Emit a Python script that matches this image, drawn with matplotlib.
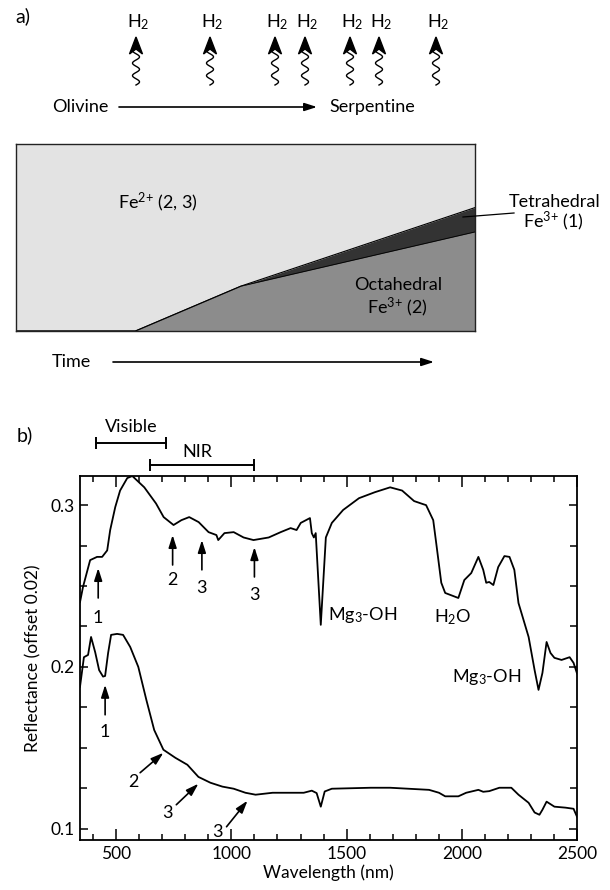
import numpy as np
import matplotlib
matplotlib.use("Agg")
from matplotlib import pyplot as plt
from matplotlib import transforms
from matplotlib.patches import Polygon
from matplotlib.ticker import MultipleLocator

plt.rcParams['font.family'] = ['Lato', 'DejaVu Sans']
plt.rcParams['mathtext.fontset'] = 'custom'
plt.rcParams['mathtext.rm'] = 'Lato'
plt.rcParams['mathtext.it'] = 'Lato:italic'
plt.rcParams['mathtext.bf'] = 'Lato:bold'

# ---- panel a: iron speciation vs time (box fractions)
time = [0.0, 0.26, 0.49, 1.0]
octa_top = [0.0, 0.0, 0.24, 0.53]
tetra_top = [0.0, 0.0, 0.24, 0.66]
h2_x = [136, 210, 275, 305, 350, 379, 436]   # pixel positions of H2 release arrows

# ---- panel b: reflectance spectra
wl_upper = [343, 356, 387, 417, 439, 461, 474, 496, 517, 548, 570, 622, 673, 706, 749,
            783, 817, 858, 901, 935, 943, 970, 1010, 1053, 1096, 1162, 1214, 1257, 1283,
            1301, 1341, 1349, 1358, 1366, 1388, 1410, 1436, 1485, 1554, 1623, 1689, 1741,
            1793, 1832, 1845, 1876, 1889, 1911, 1928, 1985, 2011, 2041, 2072, 2093, 2106,
            2119, 2137, 2158, 2185, 2207, 2228, 2246, 2290, 2316, 2333, 2350, 2368, 2385,
            2402, 2433, 2468, 2485, 2500]
refl_upper = [0.240, 0.2494, 0.266, 0.268, 0.268, 0.272, 0.2846, 0.2988, 0.309, 0.3167,
              0.318, 0.311, 0.301, 0.2926, 0.2877, 0.2907, 0.2926, 0.2895, 0.2833, 0.2815,
              0.2784, 0.2827, 0.2833, 0.280, 0.2784, 0.280, 0.2833, 0.2858, 0.2846, 0.289,
              0.292, 0.2827, 0.280, 0.2827, 0.226, 0.280, 0.289, 0.297, 0.3043, 0.308,
              0.311, 0.309, 0.3025, 0.3006, 0.300, 0.2907, 0.2765, 0.252, 0.2457, 0.2426,
              0.2537, 0.258, 0.268, 0.260, 0.252, 0.2525, 0.2506, 0.2617, 0.2685, 0.268,
              0.260, 0.2395, 0.2185, 0.198, 0.1858, 0.1963, 0.2154, 0.2086, 0.2056, 0.2043,
              0.206, 0.2025, 0.196]
wl_lower = [343, 360, 378, 391, 409, 426, 443, 452, 465, 478, 504, 530, 561, 596, 631,
            665, 705, 757, 809, 857, 909, 961, 1010, 1061, 1105, 1179, 1314, 1349, 1370,
            1388, 1405, 1436, 1605, 1689, 1858, 1901, 1928, 1985, 2019, 2072, 2093, 2119,
            2163, 2215, 2246, 2290, 2316, 2337, 2350, 2368, 2402, 2450, 2485, 2500]
refl_lower = [0.1877, 0.206, 0.2074, 0.2185, 0.209, 0.198, 0.194, 0.1944, 0.2086, 0.2198,
              0.2204, 0.2198, 0.2123, 0.200, 0.1796, 0.161, 0.1488, 0.1438, 0.1395, 0.132,
              0.1284, 0.126, 0.1247, 0.1222, 0.121, 0.1222, 0.1222, 0.1235, 0.122, 0.1136,
              0.123, 0.1247, 0.1253, 0.1253, 0.124, 0.1222, 0.120, 0.120, 0.1222, 0.124,
              0.1228, 0.1232, 0.1253, 0.1253, 0.121, 0.116, 0.110, 0.1086, 0.1117, 0.1167,
              0.1136, 0.113, 0.1123, 0.1074]

vis_range = (413, 718)
nir_range = (648, 1100)

# band arrows: (label, tail x, tail y, head x, head y, label x, label y)
arrows = [
    ('1', 422, 0.2426, 422, 0.2611, 422, 0.230),
    ('2', 745, 0.263, 745, 0.2815, 745, 0.2537),
    ('3', 872, 0.260, 872, 0.2784, 872, 0.2488),
    ('3', 1100, 0.2556, 1100, 0.274, 1100, 0.2444),
    ('1', 452, 0.1704, 452, 0.1889, 452, 0.160),
    ('2', 604, 0.1346, 705, 0.1469, 574, 0.129),
    ('3', 761, 0.1148, 857, 0.1278, 722, 0.1099),
    ('3', 979, 0.1012, 1070, 0.1173, 940, 0.0981),
]
features = [('Mg$_3$-OH', 1571, 0.232), ('H$_2$O', 1959, 0.2309), ('Mg$_3$-OH', 2107, 0.1938)]

fig = plt.figure(figsize=(6.1, 8.9), dpi=100)

# overlay in pixel coordinates for the schematic parts
ov = fig.add_axes([0, 0, 1, 1])
ov.set_xlim(0, 610)
ov.set_ylim(890, 0)
ov.axis('off')
ov.set_zorder(10)

arr = dict(arrowstyle='-|>,head_length=0.75,head_width=0.24', color='k', lw=1.2,
           shrinkA=0, shrinkB=0)

ov.text(23, 16, 'a)', fontsize=14, ha='center', va='center')
for x in h2_x:
    ov.text(x + 2, 22, 'H$_2$', fontsize=13, ha='center', va='center')
    yy = np.linspace(49, 85, 80)
    ov.plot(x + 3.5 * np.sin(2 * np.pi * (85 - yy) / 12.5), yy, color='k', lw=1.0)
    ov.add_patch(Polygon([[x, 37], [x - 6.5, 54], [x, 49], [x + 6.5, 54]], closed=True,
                         color='k'))

ov.text(52, 107, 'Olivine', fontsize=13, ha='left', va='center')
ov.annotate('', xy=(317, 107), xytext=(119, 107), arrowprops=arr)
ov.text(329, 107, 'Serpentine', fontsize=13, ha='left', va='center')

ov.text(52, 362, 'Time', fontsize=13, ha='left', va='center')
ov.annotate('', xy=(434, 362), xytext=(113, 362), arrowprops=arr)

ov.text(158, 202, 'Fe$^{2{+}}$ (2, 3)', fontsize=13, ha='center', va='center')
ov.text(398, 285, 'Octahedral', fontsize=13, ha='center', va='center')
ov.text(397, 307, 'Fe$^{3{+}}$ (2)', fontsize=13, ha='center', va='center')
ov.text(555, 202, 'Tetrahedral', fontsize=13, ha='center', va='center')
ov.text(553, 221, 'Fe$^{3{+}}$ (1)', fontsize=13, ha='center', va='center')
ov.plot([463, 514], [217, 213], color='k', lw=0.9)
ov.text(25, 435, 'b)', fontsize=14, ha='center', va='center')

# panel a box
axa = fig.add_axes([16 / 610, (890 - 331) / 890, 459 / 610, 187 / 890])
axa.set_facecolor('#e3e3e3')
axa.fill_between(time, 0, tetra_top, color='#333333', lw=0)
axa.fill_between(time, 0, octa_top, color='#8c8c8c', lw=0)
axa.plot(time, tetra_top, color='k', lw=0.8)
axa.plot(time, octa_top, color='k', lw=0.6)
axa.set_xlim(0, 1)
axa.set_ylim(0, 1)
axa.set_xticks([])
axa.set_yticks([])
for s in axa.spines.values():
    s.set_linewidth(1.0)
    s.set_color('#222222')

# panel b spectra
axb = fig.add_axes([80 / 610, 50 / 890, 497 / 610, 364 / 890])
axb.plot(wl_upper, refl_upper, color='k', lw=1.3)
axb.plot(wl_lower, refl_lower, color='k', lw=1.3)
axb.set_xlim(343, 2500)
axb.set_ylim(0.093, 0.318)
axb.xaxis.set_major_locator(MultipleLocator(500))
axb.xaxis.set_minor_locator(MultipleLocator(100))
axb.yaxis.set_major_locator(MultipleLocator(0.1))
axb.yaxis.set_minor_locator(MultipleLocator(0.025))
axb.set_yticks([0.1, 0.2, 0.3], ['0.1', '0.2', '0.3'])
axb.tick_params(which='both', direction='in', top=True, right=True, labelsize=12.5,
                width=1.1)
axb.tick_params(axis='x', which='major', length=8, pad=4)
axb.tick_params(axis='x', which='minor', length=4.3)
axb.tick_params(axis='y', which='major', length=6, pad=4)
axb.tick_params(axis='y', which='minor', length=5)
for s in axb.spines.values():
    s.set_linewidth(1.3)
axb.set_xlabel('Wavelength (nm)', fontsize=12.5, labelpad=2)
axb.set_ylabel('Reflectance (offset 0.02)', fontsize=12.5, labelpad=6)

bt = transforms.blended_transform_factory(axb.transData, axb.transAxes)
axb.plot(vis_range, [1.0907, 1.0907], color='k', lw=1.4, marker='|', ms=8, mew=1.4,
         transform=bt, clip_on=False)
axb.plot(nir_range, [1.0302, 1.0302], color='k', lw=1.4, marker='|', ms=8, mew=1.4,
         transform=bt, clip_on=False)
axb.text(np.mean(vis_range), 1.1346, 'Visible', fontsize=13, ha='center', va='center',
         transform=bt)
axb.text(np.mean(nir_range) - 20, 1.0659, 'NIR', fontsize=13, ha='center', va='center',
         transform=bt)

for lab, tx, ty, hx, hy, lx, ly in arrows:
    axb.annotate('', xy=(hx, hy), xytext=(tx, ty), arrowprops=arr, annotation_clip=False)
    axb.text(lx, ly, lab, fontsize=13, ha='center', va='center')
for lab, fx, fy in features:
    axb.text(fx, fy, lab, fontsize=13, ha='center', va='center')

fig.savefig('out.png', dpi=100)
